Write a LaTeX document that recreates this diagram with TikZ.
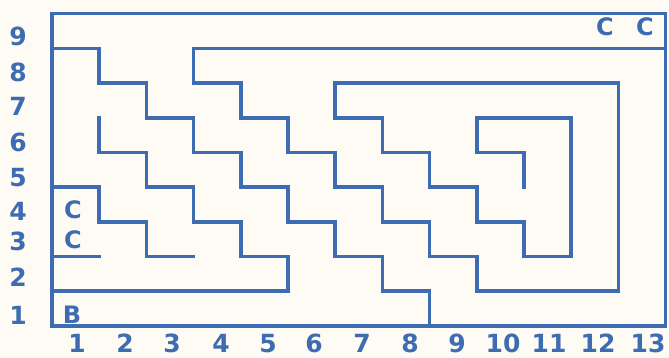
\documentclass[tikz,border=0pt]{standalone}
\usepackage{fontspec}
\setmainfont{DejaVu Sans}
\definecolor{maze}{RGB}{62,108,178}
\definecolor{paper}{RGB}{253,251,243}
\begin{document}
\begin{tikzpicture}[x=1pt,y=1pt,
  wall/.style={draw=maze, line width=3.6pt, line join=miter, line cap=rect},
  lab/.style={text=maze, font=\fontsize{25}{25}\selectfont\bfseries, inner sep=0pt, anchor=center},
  letter/.style={text=maze, font=\fontsize{24}{24}\selectfont\bfseries, inner sep=0pt, anchor=center}]
\useasboundingbox (0,0) rectangle (669,358);
\fill[paper] (0,0) rectangle (669,358);
\begin{scope}[shift={(52,32)}, x=47.2pt, y=34.7pt]
 \draw[wall] (0,0) rectangle (13,9);
 \draw[wall] (0,8) -- (1,8) -- (1,7) -- (2,7) -- (2,6) -- (3,6) -- (3,5) -- (4,5) -- (4,4) -- (5,4) -- (5,3) -- (6,3) -- (6,2) -- (7,2) -- (7,1) -- (8,1) -- (8,0);
 \draw[wall] (13,8) -- (3,8) -- (3,7) -- (4,7) -- (4,6) -- (5,6) -- (5,5) -- (6,5) -- (6,4) -- (7,4) -- (7,3) -- (8,3) -- (8,2) -- (9,2) -- (9,1) -- (12,1) -- (12,7) -- (6,7) -- (6,6) -- (7,6) -- (7,5) -- (8,5) -- (8,4) -- (9,4) -- (9,3) -- (10,3) -- (10,2) -- (11,2) -- (11,6) -- (9,6) -- (9,5) -- (10,5) -- (10,4);
 \draw[wall] (1,6) -- (1,5) -- (2,5) -- (2,4) -- (3,4) -- (3,3) -- (4,3) -- (4,2) -- (5,2) -- (5,1) -- (0,1);
 \draw[wall] (0,4) -- (1,4) -- (1,3) -- (2,3) -- (2,2) -- (3,2);
 \draw[wall] (0,2) -- (1,2);
\end{scope}
% row labels
\foreach \t/\yy in {9/322,8/286,7/252,6/216,5/180,4/147,3/117,2/81,1/43}
  \node[lab] (row\t) at (18,\yy) {\t};
% column labels
\foreach \t/\xx in {1/77,2/125,3/172,4/221,5/268,6/314,7/362,8/410,9/457,10/503,11/549,12/598,13/648}
  \node[lab, anchor=base] (col\t) at (\xx,5) {\t};
% letters in the maze
\node[letter] (cA) at (605,331) {C};
\node[letter] (cB) at (645,331) {C};
\node[letter] (cC) at (73,148) {C};
\node[letter] (cD) at (73,118) {C};
\node[letter] (bA) at (72,43) {B};
\end{tikzpicture}
\end{document}
